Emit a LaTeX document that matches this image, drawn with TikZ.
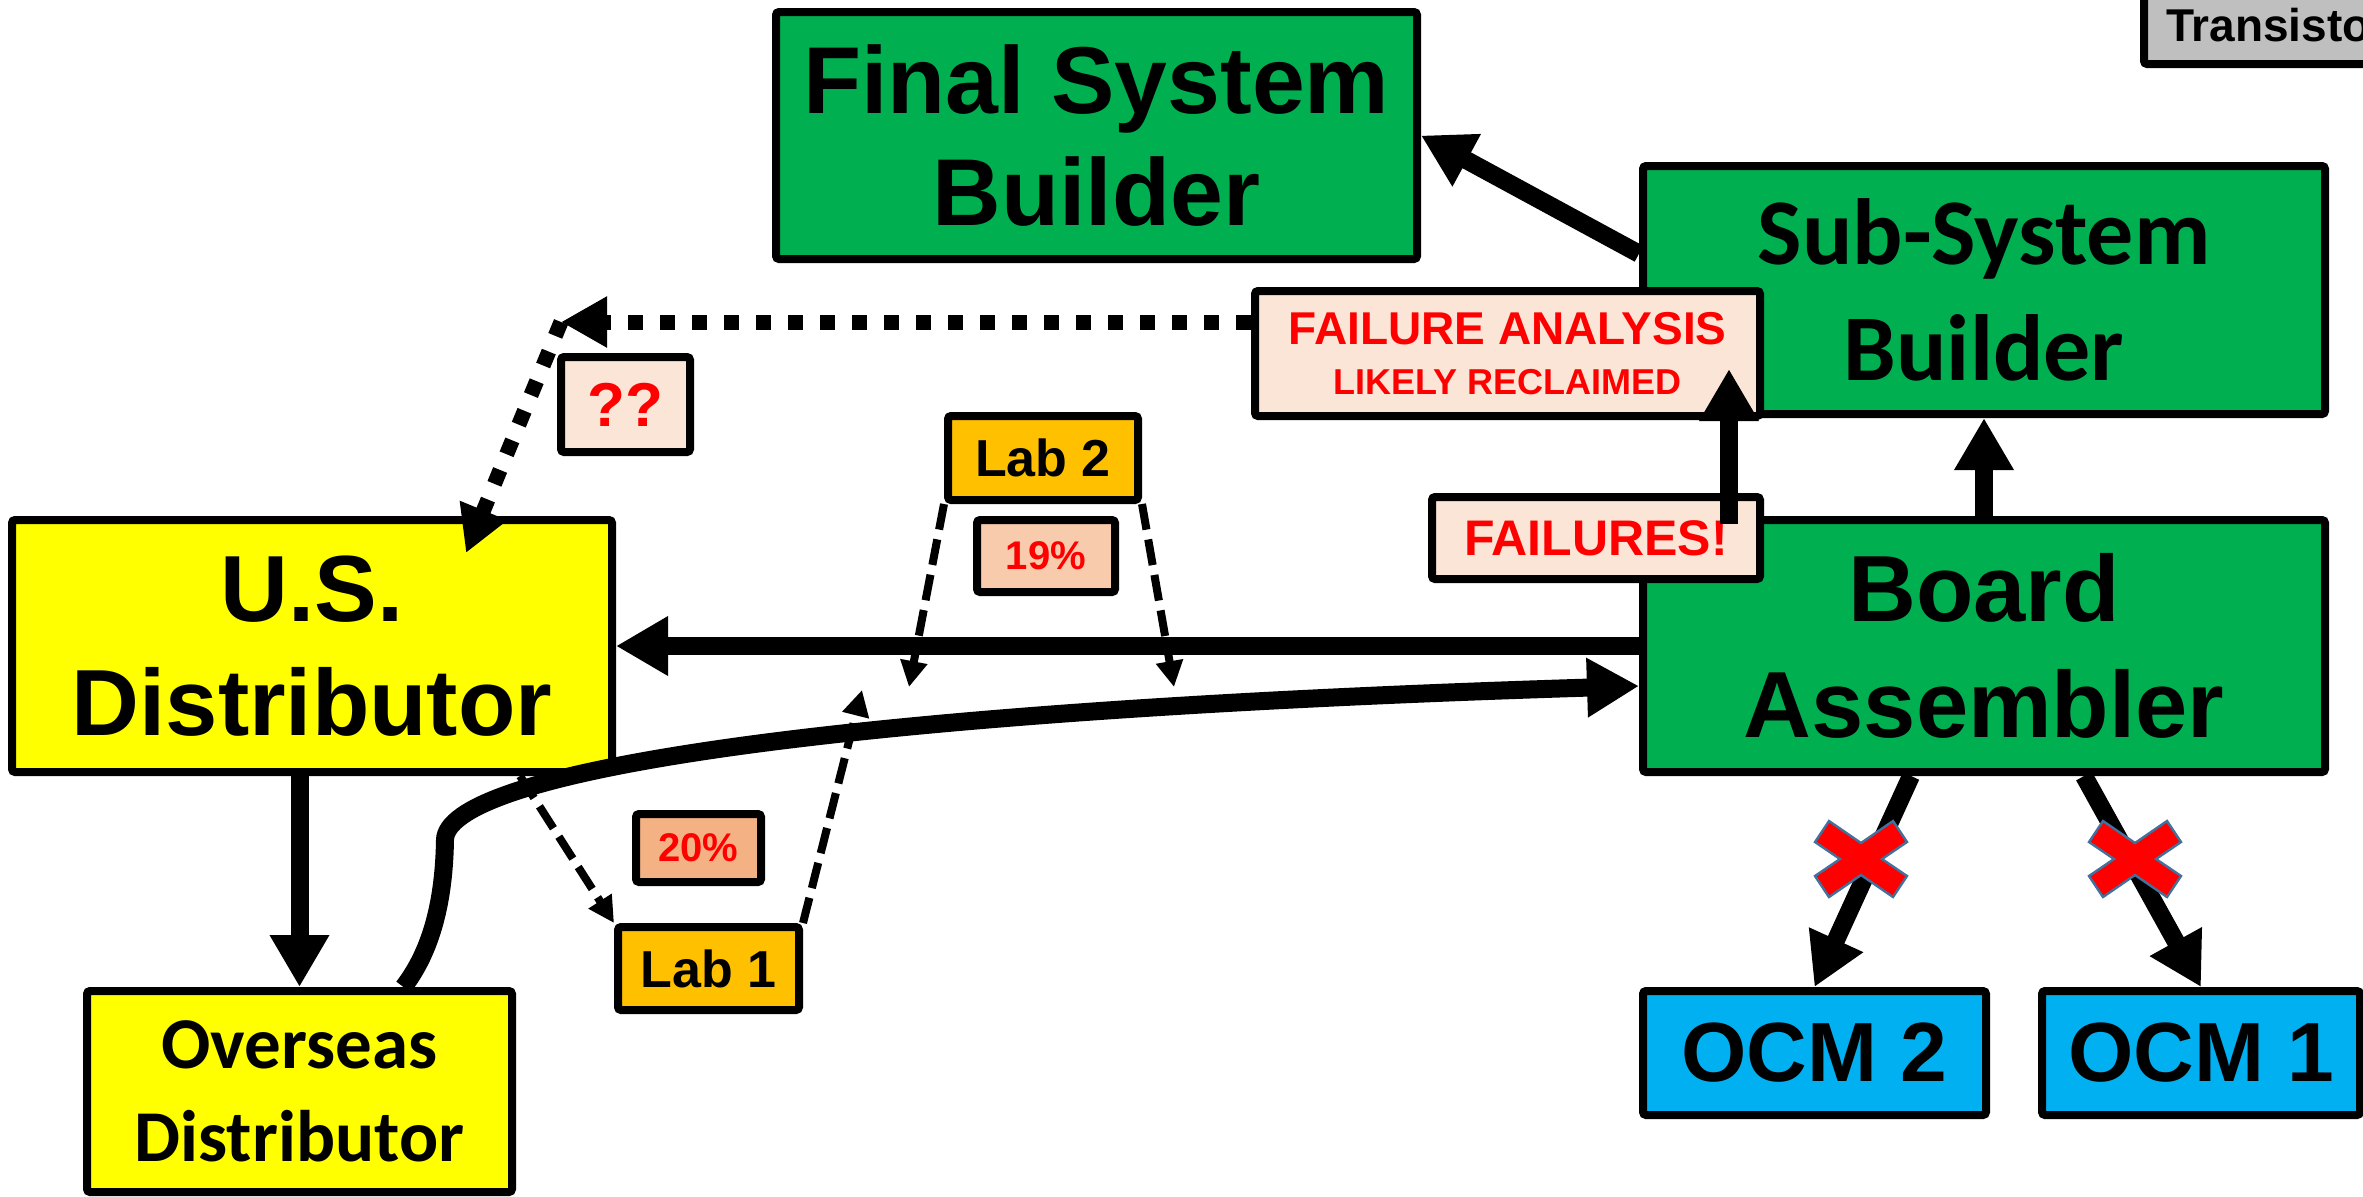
\documentclass[tikz,border=0pt]{standalone}
\usepackage{fontspec}
\usepackage{tikz}
\usetikzlibrary{arrows.meta}
\setmainfont{Liberation Sans}
\newfontfamily\calfont{Carlito}

\definecolor{boxgreen}{HTML}{00B050}
\definecolor{boxyellow}{HTML}{FFFF00}
\definecolor{boxblue}{HTML}{00B0F0}
\definecolor{labgold}{HTML}{FFC000}
\definecolor{notepink}{HTML}{FBE5D6}
\definecolor{pctpeach}{HTML}{F8CBAD}
\definecolor{pcttan}{HTML}{F4B183}
\definecolor{crossline}{HTML}{41719C}
\definecolor{boxgrey}{HTML}{BFBFBF}

\newcommand{\blocked}[1]{\filldraw[fill=red, draw=crossline, line width=1.2pt, shift={(#1)}] (-32,-38) -- (0,-16) -- (32,-38) -- (46,-17) -- (21,0) -- (46,17) -- (32,38) -- (0,16) -- (-32,38) -- (-46,17) -- (-21,0) -- (-46,-17) -- cycle;}

\begin{document}
\begin{tikzpicture}[x=0.5pt, y=-0.5pt,
	box/.style={shape=rectangle, draw=black, line width=4pt, rounded corners=1.5pt, align=center, inner sep=0pt},
	bigarrow/.style={line width=9pt, -{Triangle[length=26pt,width=28pt]}},
	dasharrow/.style={line width=4pt, dash pattern=on 13pt off 5pt, -{Triangle[length=13pt,width=13pt]}},
	dotarrow/.style={line width=7.5pt, dash pattern=on 7.5pt off 8.5pt, -{Triangle[length=23pt,width=24pt]}}]

	\useasboundingbox (0,0) rectangle (2363,1196);
	\clip (0,0) rectangle (2363,1196);
	\fill[white] (0,0) rectangle (2363,1196);

	\node[box, fill=boxgreen, minimum width=320.5pt, minimum height=123.5pt, font=\bfseries\fontsize{47.5}{56}\selectfont] (fsb) at (1096.5, 135.5) {Final System\\Builder};
	\node[box, fill=boxgreen, minimum width=341pt, minimum height=124pt, font=\calfont\bfseries\fontsize{47}{58}\selectfont] (ssb) at (1984, 290) {Sub-System\\Builder};
	\node[box, fill=boxyellow, minimum width=300pt, minimum height=126pt, font=\bfseries\fontsize{47}{57}\selectfont] (usd) at (312, 646) {U.S.\\Distributor};
	\node[box, fill=boxgreen, minimum width=341pt, minimum height=126pt, font=\bfseries\fontsize{47}{58}\selectfont] (ba) at (1984, 646) {Board\\Assembler};
	\node[box, fill=boxyellow, minimum width=212.5pt, minimum height=100.5pt, font=\calfont\bfseries\fontsize{36.5}{46.5}\selectfont] (osd) at (299.5, 1091.5) {Overseas\\Distributor};
	\node[box, fill=boxblue, minimum width=171.5pt, minimum height=62pt, font=\bfseries\fontsize{42}{50}\selectfont] (ocm2) at (1814.5, 1053) {OCM 2};
	\node[box, fill=boxblue, minimum width=159pt, minimum height=62pt, font=\bfseries\fontsize{42}{50}\selectfont] (ocm1) at (2201, 1053) {OCM 1};

	\node[box, fill=labgold, minimum width=95pt, minimum height=42pt, font=\bfseries\fontsize{26}{31}\selectfont] (lab2) at (1043, 458) {Lab 2};
	\node[box, fill=labgold, minimum width=90.5pt, minimum height=41.5pt, font=\bfseries\fontsize{26}{31}\selectfont] (lab1) at (708.5, 968.5) {Lab 1};
	\node[box, fill=pctpeach, text=red, minimum width=69pt, minimum height=36pt, font=\bfseries\fontsize{20}{24}\selectfont] (p19) at (1046, 556) {19\%};
	\node[box, fill=pcttan, text=red, minimum width=62.5pt, minimum height=34pt, font=\bfseries\fontsize{20}{24}\selectfont] (p20) at (698.5, 848) {20\%};
	\node[box, fill=notepink, text=red, minimum width=64.5pt, minimum height=47.5pt, font=\bfseries\fontsize{31}{36}\selectfont] (qq) at (625.5, 404.5) {??};
	\node[box, fill=notepink, text=red, minimum width=252.5pt, minimum height=62.5pt, font=\bfseries\fontsize{23}{25}\selectfont] (fa) at (1507.5, 353.5) {FAILURE ANALYSIS\\{\fontsize{18}{21}\selectfont LIKELY RECLAIMED}};
	\node[box, fill=notepink, text=red, minimum width=164pt, minimum height=41pt, font=\bfseries\fontsize{25}{30}\selectfont] (fails) at (1596, 538) {FAILURES!};
	\node[box, fill=boxgrey, anchor=south west, minimum height=39pt, text width=200pt, align=left, inner xsep=11pt, font=\bfseries\fontsize{23}{27}\selectfont] (trans) at (2140, 68) {Transisto};

	\coordinate (bend) at (561, 322);
	\coordinate (usdin) at (466, 553);
	\coordinate (lab1tip) at (862, 690);
	\coordinate (lab2left) at (909, 687);
	\coordinate (lab2right) at (1174, 687);
	\coordinate (failtail) at (1729, 524);
	\coordinate (failtip) at (1729, 369);

	\draw[dotarrow] (fa.west |- bend) -- (bend);
	\draw[dotarrow] (bend) -- (usdin);

	\draw[dasharrow] (usd.-32.6) -- (lab1.north west);
	\draw[dasharrow] (lab1.north east) -- (lab1tip);
	\draw[dasharrow] (lab2.south west) -- (lab2left);
	\draw[dasharrow] (lab2.south east) -- (lab2right);

	\draw[bigarrow] (ssb.174) -- (fsb.east);
	\draw[bigarrow] (ba.north) -- (ssb.south);
	\draw[bigarrow] (ba.west) -- (usd.east);
	\draw[bigarrow] (usd.south -| osd.north) -- (osd.north);
	\draw[bigarrow] ([xshift=52pt]osd.north) .. controls (432, 950) and (444, 900) .. (445, 840) .. controls (446, 775) and (800, 712) .. ([yshift=-20pt]ba.west);
	\draw[bigarrow] ([xshift=-36.5pt]ba.south) -- (ocm2.north);
	\draw[bigarrow] ([xshift=50pt]ba.south) -- (ocm1.north);
	\draw[bigarrow] (failtail) -- (failtip);

	\blocked{1861, 859}
	\blocked{2135, 859}

\end{tikzpicture}
\end{document}
